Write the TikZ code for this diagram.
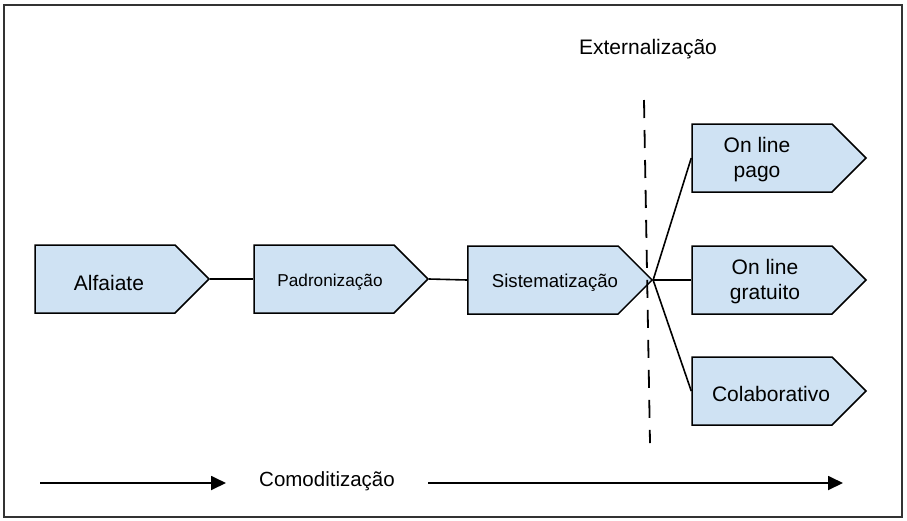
\documentclass[tikz,border=0pt]{standalone}
\usepackage{fontspec}
\setmainfont{Liberation Sans}
\usetikzlibrary{shapes.symbols,arrows.meta}
\definecolor{caixa}{HTML}{CFE2F3}
\newcommand{\baixo}[2][3pt]{\raisebox{-#1}[\height][\depth]{#2}}
\tikzset{
  etapa/.style={shape=signal, signal to=east, signal pointer angle=90, draw=black, line width=1.5pt, fill=caixa,
    minimum width=174pt, minimum height=68pt, inner sep=0pt, align=center, font=\fontsize{21}{25}\selectfont},
  liga/.style={line width=1.6pt},
  seta/.style={line width=1.8pt, -{Triangle[length=15pt,width=14pt]}},
}
\begin{document}
\begin{tikzpicture}[x=1pt,y=-1pt]
\useasboundingbox (0,0) rectangle (907,520);
\draw[line width=2pt, draw=black!80] (4,5) rectangle (902,517);
\node[etapa] (alfaiate) at (105,279) {\hspace*{8pt}\baixo[4pt]{Alfaiate}};
\node[etapa,font=\fontsize{17.2}{20}\selectfont] (padron) at (324,279) {\hspace*{12pt}\baixo{Padronização}};
\node[etapa,font=\fontsize{18.6}{22}\selectfont] (sistem) at (543,280) {\hspace*{24pt}\baixo{Sistematização}};
\node[etapa] (pago) at (762,158) {\baixo[2pt]{On line}\hspace*{10pt}\\\baixo[2pt]{pago}\hspace*{10pt}};
\node[etapa] (gratuito) at (762,280) {\hspace*{6pt}\baixo[2pt]{On line}\\\hspace*{6pt}\baixo[2pt]{gratuito}};
\node[etapa] (colab) at (762,391) {\hspace*{18pt}\baixo{Colaborativo}};
\draw[liga] (alfaiate.east) -- (padron.west);
\draw[liga] (padron.east) -- (sistem.west);
\draw[liga] (sistem.east) -- (pago.west);
\draw[liga] (sistem.east) -- (gratuito.west);
\draw[liga] (sistem.east) -- (colab.west);
\coordinate (dtop) at (644,100); \coordinate (dbot) at (650,443);
\draw[line width=1.8pt, dash pattern=on 18pt off 12pt] (dtop) -- (dbot);
\node[font=\fontsize{21}{25}\selectfont] (ext) at (648,49) {Externalização};
\node[font=\fontsize{20.5}{25}\selectfont] (comod) at (327,481) {Comoditização};
\coordinate (c1) at (40,483); \coordinate (c2) at (226,483);
\coordinate (c3) at (428,483); \coordinate (c4) at (843,483);
\draw[seta] (c1) -- (c2);
\draw[seta] (c3) -- (c4);
\end{tikzpicture}
\end{document}
